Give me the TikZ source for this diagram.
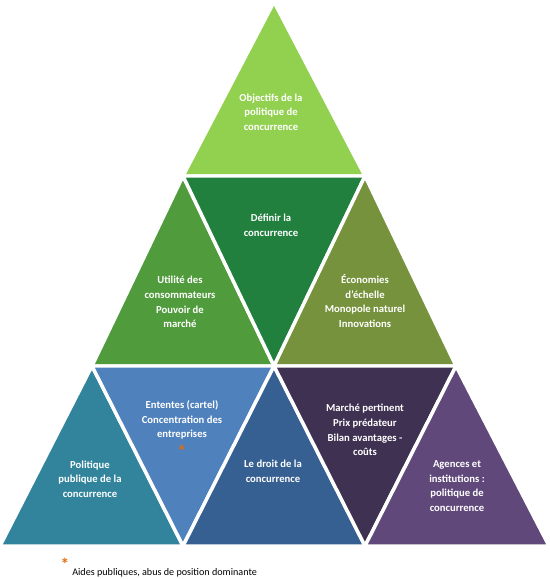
\documentclass[tikz,border=0pt]{standalone}
\usepackage{fontspec}
\setmainfont{Carlito}
\usepackage{tikz}
\usetikzlibrary{positioning, calc}

\definecolor{green1}{RGB}{146, 208, 80}
\definecolor{green2}{RGB}{80, 155, 60}
\definecolor{green3}{RGB}{33, 128, 62}
\definecolor{olive1}{RGB}{118, 146, 60}
\definecolor{teal1}{RGB}{49, 132, 155}
\definecolor{blue1}{RGB}{79, 129, 189}
\definecolor{blue2}{RGB}{54, 96, 146}
\definecolor{violet1}{RGB}{63, 49, 81}
\definecolor{violet2}{RGB}{96, 73, 122}
\definecolor{orange1}{RGB}{228, 108, 10}

\tikzset{
  tri/.style={draw=white, line width=2.6pt, line join=round},
  lbl/.style={text=white, font=\fontsize{8}{11}\selectfont\bfseries, align=center, inner sep=1pt},
  note/.style={font=\fontsize{7.6}{8}\selectfont, inner sep=0pt},
  star/.style={text=orange1, font=\fontsize{13}{13}\selectfont\bfseries, inner sep=0pt}
}

\begin{document}
\begin{tikzpicture}[x=0.75pt, y=0.75pt]
  \useasboundingbox (0,0) rectangle (550,579);

  % lattice points of the pyramid
  \coordinate (a)  at (274,577);
  \coordinate (b1) at (183,403);
  \coordinate (b2) at (365,403);
  \coordinate (c1) at (92,213);
  \coordinate (c2) at (274,213);
  \coordinate (c3) at (456,213);
  \coordinate (d1) at (0,33);
  \coordinate (d2) at (183,33);
  \coordinate (d3) at (365,33);
  \coordinate (d4) at (549,33);

  % triangles
  \filldraw[tri, fill=green1]  (a) -- (b1) -- (b2) -- cycle;
  \filldraw[tri, fill=green2]  (b1) -- (c1) -- (c2) -- cycle;
  \filldraw[tri, fill=green3]  (b1) -- (b2) -- (c2) -- cycle;
  \filldraw[tri, fill=olive1]  (b2) -- (c2) -- (c3) -- cycle;
  \filldraw[tri, fill=teal1]   (c1) -- (d1) -- (d2) -- cycle;
  \filldraw[tri, fill=blue1]   (c1) -- (c2) -- (d2) -- cycle;
  \filldraw[tri, fill=blue2]   (c2) -- (d2) -- (d3) -- cycle;
  \filldraw[tri, fill=violet1] (c2) -- (c3) -- (d3) -- cycle;
  \filldraw[tri, fill=violet2] (c3) -- (d3) -- (d4) -- cycle;

  % labels
  \node[lbl] (obj)     at (271,467) {Objectifs de la\\politique de\\concurrence};
  \node[lbl] (def)     at (271,354) {Définir la\\concurrence};
  \node[lbl] (util)    at (180,277) {Utilité des\\consommateurs\\Pouvoir de\\marché};
  \node[lbl] (eco)     at (365,278) {Économies\\d’échelle\\Monopole naturel\\Innovations};
  \node[lbl] (ent)     at (182,159) {Ententes (cartel)\\Concentration des\\entreprises};
  \node[star, below=3pt of ent] (entstar) {*};
  \node[lbl] (pol)     at (90,100)  {Politique\\publique de la\\concurrence};
  \node[lbl] (droit)   at (273,108) {Le droit de la\\concurrence};
  \node[lbl] (marche)  at (365,149) {Marché pertinent\\Prix prédateur\\Bilan avantages -\\coûts};
  \node[lbl] (agences) at (457,93)  {Agences et\\institutions :\\politique de\\concurrence};

  % footnote
  \node[note, anchor=west] (aides) at (72,6) {Aides publiques, abus de position dominante};
  \node[star] (aidestar) at (65,15) {*};
\end{tikzpicture}
\end{document}
